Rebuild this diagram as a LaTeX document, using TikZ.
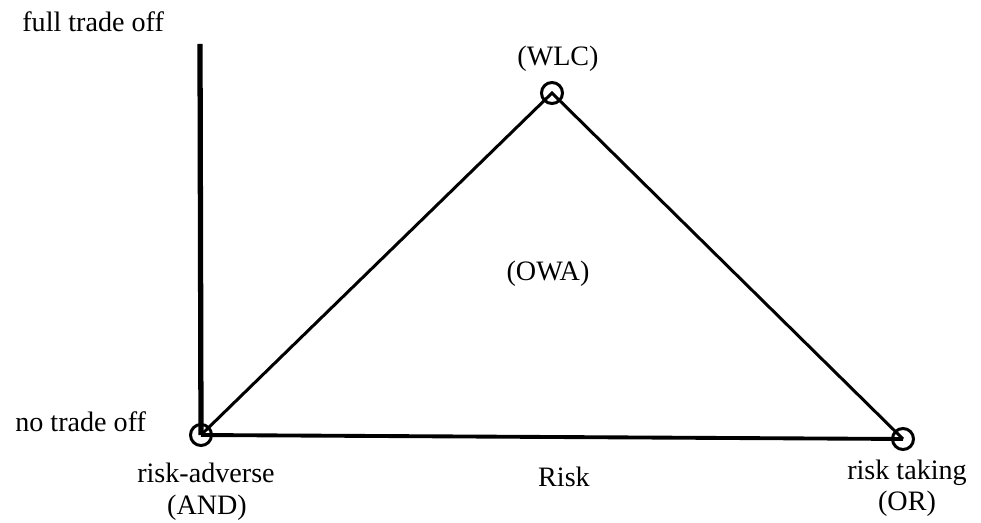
\documentclass[tikz,border=0pt]{standalone}
\usepackage{fontspec}
\setmainfont{Liberation Serif}
\tikzset{
  vertex/.style={draw,circle,line width=1.7pt,minimum size=0.42cm,inner sep=0pt},
  label/.style={font=\fontsize{16}{19}\selectfont,inner sep=0pt,anchor=base},
  edge/.style={line width=1.7pt}
}
\begin{document}
\begin{tikzpicture}[x=0.02cm,y=-0.02cm]
  \useasboundingbox (0,0) rectangle (981,523);

  % corner points
  \coordinate (top) at (200,44);
  \node[vertex] (and) at (201,435) {};
  \node[vertex] (wlc) at (552,93) {};
  \node[vertex] (or) at (903,439) {};

  % axes and triangle
  \draw[line width=3pt] (top) -- (and.center);
  \draw[line width=2.2pt] (and.center) -- (or.center);
  \draw[edge] (and.center) -- (wlc.center) -- (or.center);

  % texts
  \node[label,anchor=base west] (full) at (22,32) {full trade off};
  \node[label,anchor=base west] (none) at (15,432) {no trade off};
  \node[label] (wlctxt) at (558,66) {(WLC)};
  \node[label] (owa) at (548,281) {(OWA)};
  \node[label] (adverse) at (206,483) {risk-adverse};
  \node[label] (andtxt) at (207,515) {(AND)};
  \node[label] (risk) at (564,487) {Risk};
  \node[label] (taking) at (907,480) {risk taking};
  \node[label] (ortxt) at (907,511) {(OR)};
\end{tikzpicture}
\end{document}
